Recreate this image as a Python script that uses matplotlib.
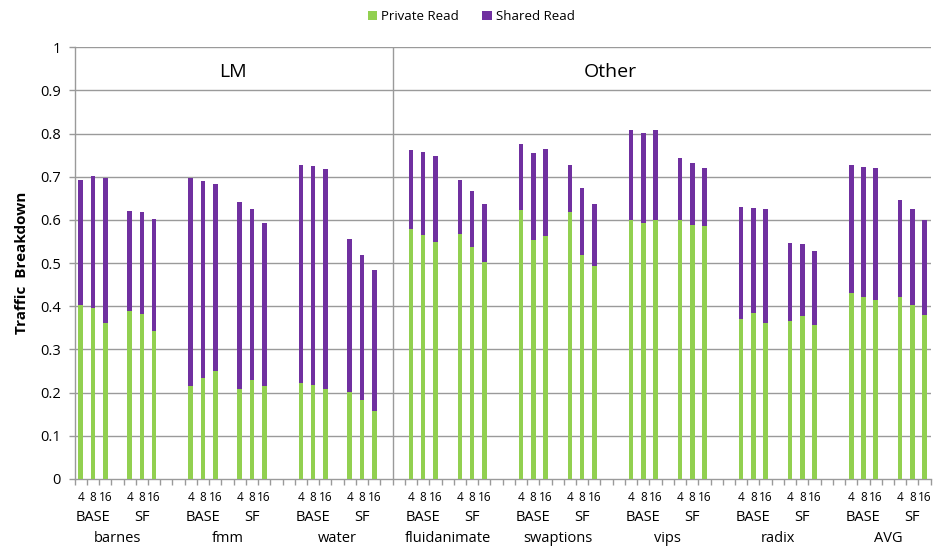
import numpy as np
import matplotlib.pyplot as plt
from matplotlib.patches import Patch

plt.rcParams['font.family'] = ['Open Sans', 'DejaVu Sans']

benchmarks = ['barnes', 'fmm', 'water', 'fluidanimate', 'swaptions', 'vips', 'radix', 'AVG']
configs = ['BASE', 'SF']
cores = ['4', '8', '16']

# private read fraction, per benchmark: BASE 4/8/16 then SF 4/8/16
private_read = [
    [0.403, 0.396, 0.362, 0.390, 0.383, 0.343],
    [0.215, 0.235, 0.249, 0.208, 0.229, 0.215],
    [0.222, 0.218, 0.208, 0.201, 0.183, 0.157],
    [0.580, 0.565, 0.549, 0.567, 0.538, 0.502],
    [0.623, 0.553, 0.562, 0.619, 0.518, 0.494],
    [0.601, 0.592, 0.601, 0.600, 0.588, 0.586],
    [0.370, 0.384, 0.362, 0.366, 0.377, 0.356],
    [0.431, 0.421, 0.414, 0.421, 0.402, 0.379],
]
# total (private + shared) read
total_read = [
    [0.692, 0.702, 0.698, 0.620, 0.618, 0.603],
    [0.697, 0.690, 0.683, 0.641, 0.625, 0.594],
    [0.728, 0.724, 0.717, 0.555, 0.519, 0.485],
    [0.762, 0.757, 0.748, 0.692, 0.667, 0.637],
    [0.777, 0.754, 0.765, 0.728, 0.673, 0.636],
    [0.808, 0.802, 0.808, 0.743, 0.731, 0.721],
    [0.629, 0.627, 0.625, 0.546, 0.544, 0.528],
    [0.728, 0.722, 0.721, 0.647, 0.625, 0.601],
]

GREEN = '#92D050'
PURPLE = '#7030A0'
GRID = '#9a9a9a'

# slot layout: 3 bars, 1 gap, 3 bars, 2 gaps between benchmarks
xs = []
for b in range(len(benchmarks)):
    start = b * 9
    xs.append([start + 0, start + 1, start + 2, start + 4, start + 5, start + 6])
xs = np.array(xs)
priv = np.array(private_read)
shared = np.array(total_read) - priv
n_slots = len(benchmarks) * 9 - 2

fig = plt.figure(figsize=(9.33, 5.48), dpi=100)
ax = fig.add_axes([0.080, 0.126, 0.9175, 0.7877])

w = 0.38
ax.bar(xs.ravel(), priv.ravel(), width=w, color=GREEN, zorder=3)
ax.bar(xs.ravel(), shared.ravel(), width=w, bottom=priv.ravel(), color=PURPLE, zorder=3)

ax.set_xlim(-0.5, n_slots - 0.5)
ax.set_ylim(0, 1)
ax.set_yticks(np.arange(0, 1.01, 0.1))
ax.set_yticklabels(['%g' % round(v, 1) for v in np.arange(0, 1.01, 0.1)], fontsize=10.5)
for v in np.arange(0.1, 1.01, 0.1):
    ax.axhline(v, color=GRID, lw=1, zorder=1)

ax.set_xticks(np.arange(-0.5, n_slots, 1.0))
ax.set_xticklabels([])
ax.tick_params(axis='both', direction='out', length=4, color=GRID, width=1)
ax.tick_params(axis='y', pad=6)
for side in ['top', 'right']:
    ax.spines[side].set_visible(False)
for side in ['left', 'bottom']:
    ax.spines[side].set_color(GRID)
    ax.spines[side].set_linewidth(1)

# LM / Other separator
ax.axvline(25.5, color=GRID, lw=1, zorder=1)
ax.text(12.45, 0.942, 'LM', ha='center', va='center', fontsize=14)
ax.text(43.3, 0.942, 'Other', ha='center', va='center', fontsize=14)

trans = ax.get_xaxis_transform()
for b, name in enumerate(benchmarks):
    for j, x in enumerate(xs[b]):
        ax.text(x, -0.042, cores[j % 3], ha='center', va='center', fontsize=8.5, transform=trans)
    ax.text(xs[b][1], -0.090, configs[0], ha='center', va='center', fontsize=10.5, transform=trans)
    ax.text(xs[b][4], -0.090, configs[1], ha='center', va='center', fontsize=10.5, transform=trans)
    ax.text((xs[b][0] + xs[b][5]) / 2, -0.137, name, ha='center', va='center', fontsize=10.5,
            transform=trans)

ax.set_ylabel('Traffic  Breakdown', fontsize=11, fontweight='bold', labelpad=8)

handles = [Patch(facecolor=GREEN, label='Private Read'),
           Patch(facecolor=PURPLE, label='Shared Read')]
fig.legend(handles=handles, loc='center', bbox_to_anchor=(0.505, 0.970), ncol=2, frameon=False,
           fontsize=9.5, handlelength=0.7, handleheight=0.7, handletextpad=0.3, columnspacing=1.8)

plt.savefig('out.png', dpi=100)
